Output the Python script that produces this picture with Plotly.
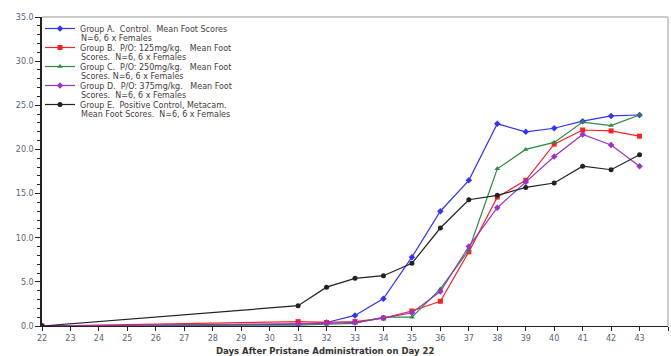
import plotly.graph_objects as go

days = [22, 31, 32, 33, 34, 35, 36, 37, 38, 39, 40, 41, 42, 43]
group_a = [0.0, 0.2, 0.4, 1.2, 3.1, 7.8, 13.0, 16.5, 22.9, 22.0, 22.4, 23.2, 23.8, 23.9]
group_b = [0.0, 0.5, 0.4, 0.5, 0.9, 1.7, 2.8, 8.4, 14.6, 16.5, 20.6, 22.2, 22.1, 21.5]
group_c = [0.0, 0.1, 0.2, 0.3, 1.0, 1.0, 4.2, 8.6, 17.8, 20.0, 20.8, 23.1, 22.7, 23.9]
group_d = [0.0, 0.2, 0.3, 0.4, 0.9, 1.5, 3.9, 9.0, 13.4, 16.3, 19.2, 21.7, 20.5, 18.1]
group_e = [0.0, 2.3, 4.4, 5.4, 5.7, 7.1, 11.1, 14.3, 14.8, 15.7, 16.2, 18.1, 17.7, 19.4]

name_line1 = [
    "Group A.  Control.  Mean Foot Scores",
    "Group B.  P/O: 125mg/kg.   Mean Foot",
    "Group C.  P/O: 250mg/kg.   Mean Foot",
    "Group D.  P/O: 375mg/kg.   Mean Foot",
    "Group E.  Positive Control, Metacam.",
]
name_line2 = [
    "N=6, 6 x Females",
    "Scores.  N=6, 6 x Females",
    "Scores. N=6, 6 x Females",
    "Scores.  N=6, 6 x Females",
    "Mean Foot Scores.  N=6, 6 x Females",
]
series = [group_a, group_b, group_c, group_d, group_e]
colors = ["#3333ff", "#ff2020", "#2e8b3e", "#9933cc", "#222222"]
symbols = ["diamond", "square", "triangle-up", "diamond", "circle"]

W, H = 671, 356
ML, MR, MT, MB = 42, 3, 17, 30
PH = H - MT - MB
PW = W - ML - MR

LEG_FONT = 8
TXT_COLOR = "#443c3c"

fig = go.Figure()
for n1, vals, c, s in zip(name_line1, series, colors, symbols):
    fig.add_trace(go.Scatter(
        x=days, y=vals, name=n1, mode="lines+markers",
        line=dict(color=c, width=1.2),
        marker=dict(color=c, size=5, symbol=s),
    ))

def py(p):
    return (H - MB - p) / PH

def px(p):
    return (p - ML) / PW

annotations = []
# continuation lines of the legend entries
for i, n2 in enumerate(name_line2):
    annotations.append(dict(
        text=n2, x=px(80), y=py(29 + 19 * i + 9.5), xref="paper", yref="paper",
        xanchor="left", yanchor="middle", showarrow=False, borderpad=0,
        font=dict(family="DejaVu Sans", size=LEG_FONT, color=TXT_COLOR),
    ))
annotations.append(dict(
    text="<b>Days After Pristane Administration on Day 22</b>",
    x=px(325), y=py(351), xref="paper", yref="paper",
    showarrow=False, xanchor="center", yanchor="middle",
    font=dict(family="DejaVu Sans", size=8.5, color="#333333"),
))

fig.update_layout(
    width=W, height=H,
    margin=dict(l=ML, r=MR, t=MT, b=MB),
    paper_bgcolor="white", plot_bgcolor="white",
    font=dict(family="DejaVu Sans", size=8, color="#556677"),
    showlegend=True,
    legend=dict(
        x=px(40), y=py(14), xanchor="left", yanchor="top",
        bgcolor="rgba(255,255,255,0)",
        font=dict(family="DejaVu Sans", size=LEG_FONT, color=TXT_COLOR),
        tracegroupgap=0, itemwidth=30,
    ),
    annotations=annotations,
)

fig.update_xaxes(
    range=[22, 44], dtick=1, tick0=22,
    showgrid=False, zeroline=False,
    showline=True, linecolor="#222222", linewidth=1,
    ticks="outside", ticklen=4, tickcolor="#222222",
    tickfont=dict(size=8, color="#556677"),
)
fig.update_yaxes(
    range=[0, 35], dtick=5, tickformat=".1f",
    showgrid=False, zeroline=False,
    showline=True, linecolor="#222222", linewidth=1.5,
    ticks="outside", ticklen=5, tickcolor="#222222",
    minor=dict(dtick=1, ticks="outside", ticklen=3, tickcolor="#222222"),
    tickfont=dict(size=8, color="#556677"),
)

# grey frame on top and right
fig.add_shape(type="line", xref="paper", yref="paper", x0=0, x1=1, y0=1, y1=1,
              line=dict(color="#bbbbbb", width=1.5))
fig.add_shape(type="line", xref="paper", yref="paper", x0=1, x1=1, y0=0, y1=1,
              line=dict(color="#bbbbbb", width=1.5))

fig.write_html("out.html")
